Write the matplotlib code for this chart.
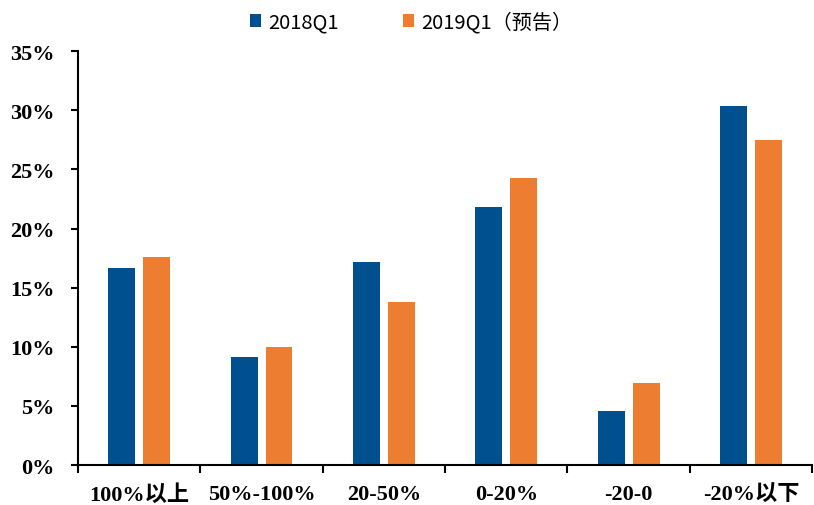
import numpy as np
import matplotlib.pyplot as plt
from matplotlib.ticker import FuncFormatter, FixedLocator

plt.rcParams['font.family'] = ['Liberation Serif', 'Noto Sans CJK SC']

# data
categories = ['100%以上', '50%-100%', '20-50%', '0-20%', '-20-0', '-20%以下']
q1_2018 = [16.7, 9.1, 17.2, 21.8, 4.6, 30.4]
q1_2019 = [17.6, 10.0, 13.8, 24.3, 6.9, 27.5]
series_names = ['2018Q1', '2019Q1（预告）']

blue = '#00508F'
orange = '#ED7D31'

fig = plt.figure(figsize=(8.14, 5.06), dpi=100)
ax = fig.add_axes([0.0958, 0.079, 0.902, 0.818])

x = np.arange(len(categories))
w = 0.22
gap = 0.065
ax.bar(x - (w + gap) / 2, q1_2018, width=w, color=blue, label=series_names[0])
ax.bar(x + (w + gap) / 2, q1_2019, width=w, color=orange, label=series_names[1])

ax.set_ylim(0, 35)
ax.set_xlim(-0.5, len(categories) - 0.5)
ax.set_yticks(np.arange(0, 36, 5))
ax.yaxis.set_major_formatter(FuncFormatter(lambda v, p: '%d%%' % v))

# category labels between boundary ticks
ax.xaxis.set_major_locator(FixedLocator(np.arange(-0.5, len(categories), 1)))
ax.xaxis.set_major_formatter(FuncFormatter(lambda v, p: ''))
ax.xaxis.set_minor_locator(FixedLocator(x))
ax.set_xticklabels(categories, minor=True)
ax.tick_params(axis='x', which='minor', length=0, pad=14)
ax.tick_params(axis='x', which='major', length=6, width=1.5, direction='out')
ax.tick_params(axis='y', length=5, width=1.5, direction='out', pad=12)

for lab in ax.get_xticklabels(minor=True) + ax.get_yticklabels():
    lab.set_fontsize(16)
    lab.set_fontweight('bold')

for s in ['top', 'right']:
    ax.spines[s].set_visible(False)
for s in ['left', 'bottom']:
    ax.spines[s].set_linewidth(1.5)

handles, labels = ax.get_legend_handles_labels()
leg = fig.legend(handles, labels, loc='center', bbox_to_anchor=(0.505, 0.955), ncol=2, frameon=False,
                 handlelength=0.55, handleheight=0.55, handletextpad=0.35, columnspacing=3.2,
                 prop={'family': ['Noto Sans CJK SC'], 'size': 14.5})

fig.savefig('out.png', dpi=100)
